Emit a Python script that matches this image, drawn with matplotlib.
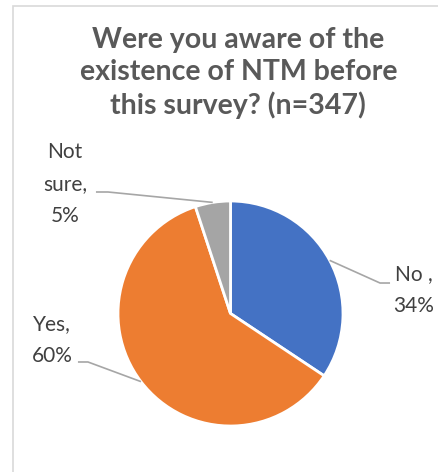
import matplotlib
matplotlib.use('Agg')
import numpy as np
from matplotlib import pyplot as plt
from matplotlib.patches import Rectangle

title = 'Were you aware of the\nexistence of NTM before\nthis survey? (n=347)'
categories = ['No ', 'Yes', 'Not sure']
values = [34, 60, 5]
colors = ['#4472C4', '#ED7D31', '#A5A5A5']


def main():
    plt.rcParams['font.family'] = ['Lato', 'DejaVu Sans']
    fig = plt.figure(figsize=(4.38, 4.72), dpi=100)
    ax = fig.add_axes([0, 0, 1, 1])

    # chart frame (cropped at right/bottom)
    fig.patches.append(Rectangle((13 / 438, -0.1), 2, (472 - 6) / 472 + 0.1,
                                 transform=fig.transFigure, fill=False,
                                 edgecolor='#D9D9D9', linewidth=1.2))

    wedges, _ = ax.pie(values, colors=colors, startangle=90, counterclock=False,
                       wedgeprops=dict(edgecolor='white', linewidth=2))

    # pie of radius 1 at pixel (230.5, 313.5), 112.5 px per unit
    s = 112.5
    ax.set_xlim(-230.5 / s, (438 - 230.5) / s)
    ax.set_ylim(-(472 - 313.5) / s, 313.5 / s)
    ax.set_aspect('equal', adjustable='box')
    ax.axis('off')

    fig.text(0.544, 1 - 73 / 472, title, ha='center', va='center',
             fontsize=20.5, fontweight='bold', color='#595959', linespacing=1.27)

    # label positions (text centre, elbow, line end) in data units
    label_pos = [(1.631, 0.209), (-1.587, -0.236), (-1.471, 1.147)]
    elbows = [((1.329, 0.271), (1.418, 0.271)),
              ((-1.267, -0.431), (-1.356, -0.431)),
              ((-1.089, 1.08), (-1.196, 1.08))]
    for w, cat, v, lp, (e1, e2) in zip(wedges, categories, values, label_pos, elbows):
        ang = np.deg2rad((w.theta1 + w.theta2) / 2)
        x0, y0 = np.cos(ang), np.sin(ang)
        ax.plot([x0, e1[0], e2[0]], [y0, e1[1], e2[1]], color='#A6A6A6', lw=1.2,
                solid_capstyle='butt')
        if cat == 'Not sure':
            txt = 'Not\nsure,\n{0}%'.format(v)
        else:
            txt = '{0},\n{1}%'.format(cat, v)
        ax.text(lp[0], lp[1], txt, ha='center', va='center', fontsize=15,
                color='#404040', linespacing=1.75)

    fig.savefig('out.png', dpi=100)


if __name__ == '__main__':
    main()
